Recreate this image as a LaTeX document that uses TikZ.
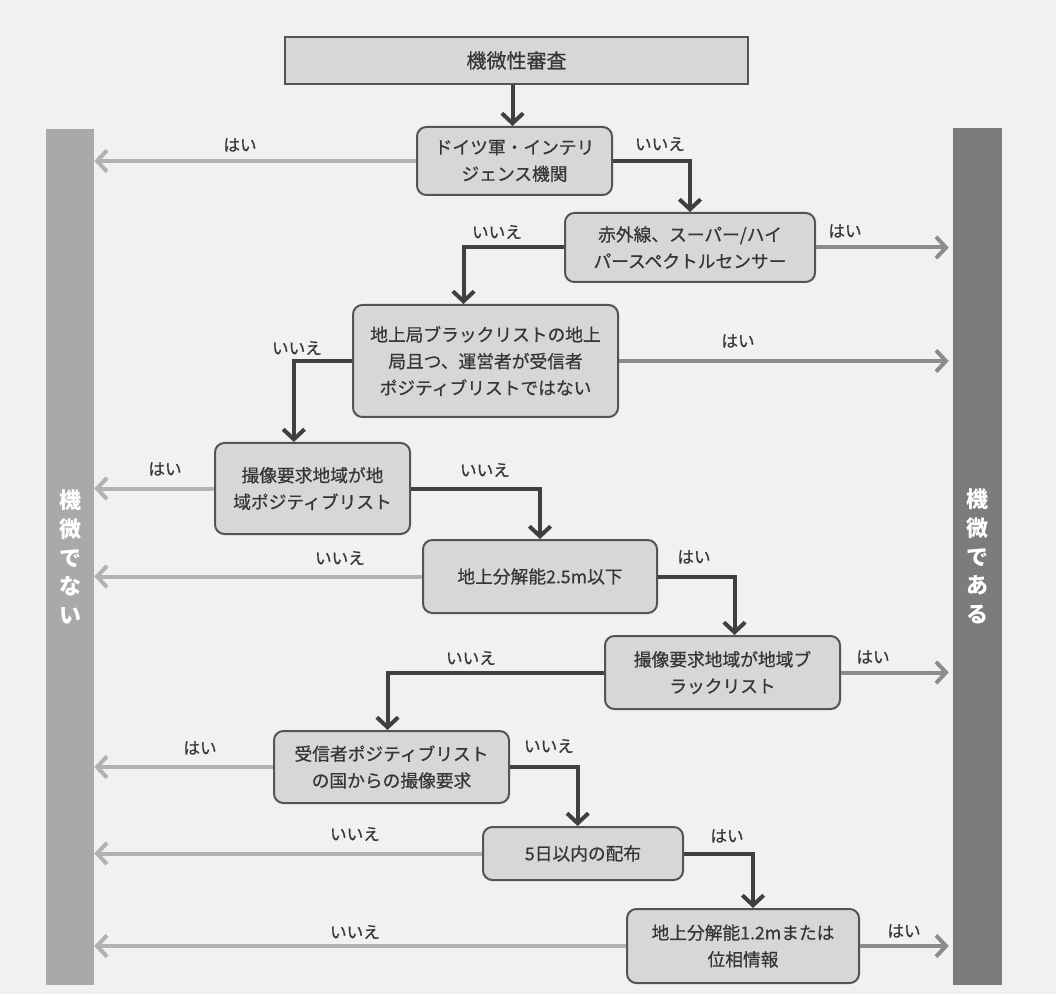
\documentclass[tikz,border=0pt]{standalone}
\usepackage{fontspec}
\setmainfont{Noto Sans CJK JP}
\newfontfamily\jpbody{Noto Sans CJK JP}[FakeBold=0.6]
\usetikzlibrary{arrows.meta}

\definecolor{bgpaper}{HTML}{F1F1EF}
\definecolor{boxfill}{HTML}{D7D7D5}
\definecolor{boxline}{HTML}{545454}
\definecolor{txtgray}{HTML}{363636}
\definecolor{flowdark}{HTML}{404040}
\definecolor{arrowno}{HTML}{B2B2B0}
\definecolor{arrowyes}{HTML}{8C8C8A}
\definecolor{barno}{HTML}{A9A9A7}
\definecolor{baryes}{HTML}{7C7C7A}

\tikzset{
  decision/.style={draw=boxline, line width=1.5pt, fill=boxfill, rounded corners=7pt,
    inner sep=0pt, align=center, text=txtgray, font=\jpbody\fontsize{13.3}{20}\selectfont},
  headbox/.style={draw=boxline, line width=1.5pt, fill=boxfill, inner sep=0pt,
    text=txtgray, font=\jpbody\fontsize{15}{18}\selectfont},
  sidebar/.style={inner sep=0pt, align=center, text=white,
    font=\fontsize{16.5}{21.5}\selectfont\bfseries},
  answer/.style={text=txtgray, inner sep=1pt, font=\jpbody\fontsize{12.5}{14}\selectfont},
  flow/.style={draw=flowdark, line width=3pt,
    -{Straight Barb[length=7.5pt,width=16pt]}},
  tonot/.style={draw=arrowno, line width=3pt,
    -{Straight Barb[length=7.5pt,width=16pt]}},
  tois/.style={draw=arrowyes, line width=3pt, shorten >=3pt,
    -{Straight Barb[length=7.5pt,width=16pt]}},
}

\begin{document}
\begin{tikzpicture}[x=0.75pt, y=-0.75pt]
  % paper
  \fill[bgpaper] (0,0) rectangle (1056,994);
  \useasboundingbox (0,0) rectangle (1056,994);

  % outcome bars
  \node[sidebar, fill=barno, minimum width=48*0.75pt, minimum height=856*0.75pt]
    (notsens) at (70,557) {機\\微\\で\\な\\い};
  \node[sidebar, fill=baryes, minimum width=49*0.75pt, minimum height=857*0.75pt]
    (issens) at (977.5,556.5) {機\\微\\で\\あ\\る};

  % start
  \node[headbox, minimum width=463*0.75pt, minimum height=47*0.75pt]
    (start) at (516.5,60.5) {機微性審査};

  % decisions
  \node[decision, minimum width=195*0.75pt, minimum height=68*0.75pt]
    (q1) at (514.5,161) {ドイツ軍・インテリ\\ジェンス機関};
  \node[decision, minimum width=250*0.75pt, minimum height=69*0.75pt]
    (q2) at (690,247.5) {赤外線、スーパー/ハイ\\パースペクトルセンサー};
  \node[decision, minimum width=265*0.75pt, minimum height=112*0.75pt]
    (q3) at (485.5,361) {地上局ブラックリストの地上\\局且つ、運営者が受信者\\ポジティブリストではない};
  \node[decision, minimum width=195*0.75pt, minimum height=91*0.75pt]
    (q4) at (312.5,488.5) {撮像要求地域が地\\域ポジティブリスト};
  \node[decision, minimum width=234*0.75pt, minimum height=73*0.75pt]
    (q5) at (540,576.5) {地上分解能2.5m以下};
  \node[decision, minimum width=235*0.75pt, minimum height=73*0.75pt]
    (q6) at (722.5,672.5) {撮像要求地域が地域ブ\\ラックリスト};
  \node[decision, minimum width=235*0.75pt, minimum height=72*0.75pt]
    (q7) at (391.5,767) {受信者ポジティブリスト\\の国からの撮像要求};
  \node[decision, minimum width=200*0.75pt, minimum height=53*0.75pt]
    (q8) at (583,853.5) {5日以内の配布};
  \node[decision, minimum width=232*0.75pt, minimum height=74*0.75pt]
    (q9) at (743,946) {地上分解能1.2mまたは\\位相情報};

  % main path
  \draw[flow] ([xshift=-3pt]start.south) -- ([xshift=-1.5pt]q1.north);
  \draw[flow] (q1.east) -| (q2.north);
  \draw[flow] (q2.west) -| ([xshift=-16.5pt]q3.north);
  \draw[flow] (q3.west) -| ([xshift=-14pt]q4.north);
  \draw[flow] (q4.east) -| (q5.north);
  \draw[flow] (q5.east) -| ([xshift=9pt]q6.north);
  \draw[flow] (q6.west) -| ([xshift=-3pt]q7.north);
  \draw[flow] (q7.east) -| ([xshift=-4pt]q8.north);
  \draw[flow] (q8.east) -| ([xshift=7.5pt]q9.north);

  % exits to "not sensitive"
  \draw[tonot] (q1.west) -- (q1.west -| notsens.east);
  \draw[tonot] (q4.west) -- (q4.west -| notsens.east);
  \draw[tonot] (q5.west) -- (q5.west -| notsens.east);
  \draw[tonot] (q7.west) -- (q7.west -| notsens.east);
  \draw[tonot] (q8.west) -- (q8.west -| notsens.east);
  \draw[tonot] (q9.west) -- (q9.west -| notsens.east);

  % exits to "sensitive"
  \draw[tois] (q2.east) -- (q2.east -| issens.west);
  \draw[tois] (q3.east) -- (q3.east -| issens.west);
  \draw[tois] (q6.east) -- (q6.east -| issens.west);
  \draw[tois] (q9.east) -- (q9.east -| issens.west);

  % branch labels
  \node[answer] (a1y) at (240,145) {はい};
  \node[answer] (a1n) at (660,144) {いいえ};
  \node[answer] (a2n) at (497,232) {いいえ};
  \node[answer] (a2y) at (845,231) {はい};
  \node[answer] (a3n) at (297,348) {いいえ};
  \node[answer] (a3y) at (738,341) {はい};
  \node[answer] (a4y) at (165,469) {はい};
  \node[answer] (a4n) at (485,470) {いいえ};
  \node[answer] (a5n) at (340,558) {いいえ};
  \node[answer] (a5y) at (694,557) {はい};
  \node[answer] (a6n) at (471,658) {いいえ};
  \node[answer] (a6y) at (873,657) {はい};
  \node[answer] (a7y) at (200,748) {はい};
  \node[answer] (a7n) at (549,746) {いいえ};
  \node[answer] (a8n) at (355,834) {いいえ};
  \node[answer] (a8y) at (727,836) {はい};
  \node[answer] (a9n) at (355,932) {いいえ};
  \node[answer] (a9y) at (904,931) {はい};
\end{tikzpicture}
\end{document}
